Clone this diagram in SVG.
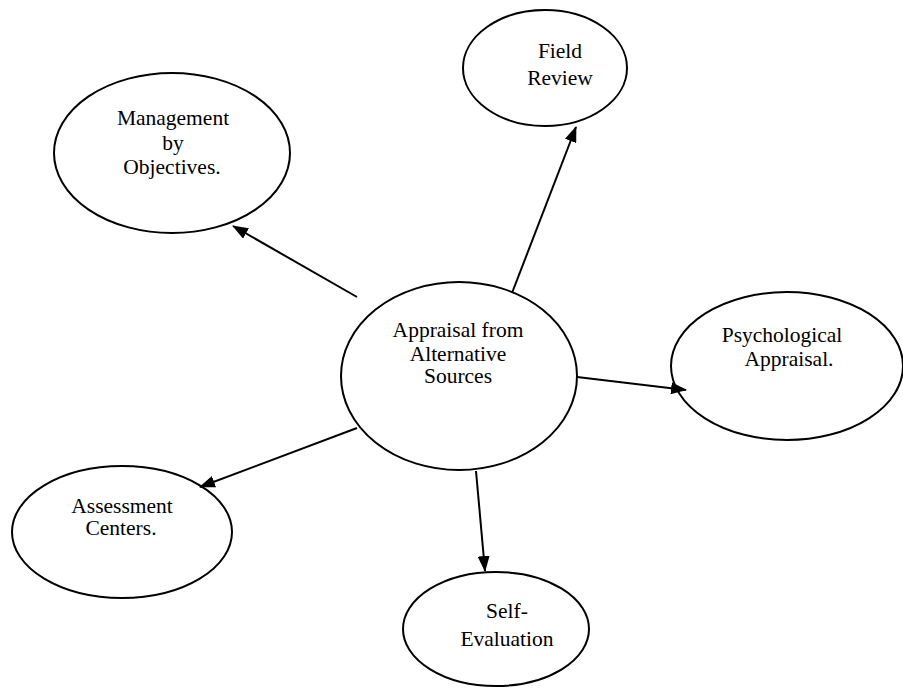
<svg xmlns="http://www.w3.org/2000/svg" width="903" height="688" viewBox="0 0 903 688">
<style>
.n ellipse{fill:#fff;stroke:#000;stroke-width:2}
.n text{font-family:'Liberation Serif','Times New Roman','DejaVu Serif',Times,serif;font-size:21.5px;fill:#000;text-anchor:middle}
.c line{stroke:#000;stroke-width:2;fill:none}
</style>
<defs>
<marker id="ah" viewBox="0 0 16 12" refX="15" refY="6" markerWidth="16" markerHeight="12" markerUnits="userSpaceOnUse" orient="auto">
<path d="M0,0 L16,6 L0,12 Z" fill="#000"/>
</marker>
</defs>
<rect width="903" height="688" fill="#fff"/>
<g id="mbo" class="n">
<ellipse cx="172" cy="153" rx="118" ry="80"/>
<text x="173" y="125">Management</text>
<text x="173" y="150">by</text>
<text x="172" y="174">Objectives.</text>
</g>
<g id="field" class="n">
<ellipse cx="545" cy="68" rx="82" ry="58"/>
<text x="560" y="58">Field</text>
<text x="560" y="85">Review</text>
</g>
<g id="center" class="n">
<ellipse cx="459" cy="376" rx="118" ry="94"/>
<text x="458" y="337">Appraisal from</text>
<text x="458" y="361">Alternative</text>
<text x="458" y="383">Sources</text>
</g>
<g id="psych" class="n">
<ellipse cx="787" cy="366" rx="116" ry="74"/>
<text x="782" y="342">Psychological</text>
<text x="789" y="366">Appraisal.</text>
</g>
<g id="assess" class="n">
<ellipse cx="122" cy="532" rx="110" ry="66"/>
<text x="122" y="513">Assessment</text>
<text x="121" y="535">Centers.</text>
</g>
<g id="self" class="n">
<ellipse cx="496" cy="629" rx="93" ry="57"/>
<text x="507" y="618">Self-</text>
<text x="507" y="646">Evaluation</text>
</g>
<g id="connectors" class="c">
<line x1="357" y1="297" x2="233" y2="226" marker-end="url(#ah)"/>
<line x1="512" y1="293" x2="576" y2="127" marker-end="url(#ah)"/>
<line x1="577" y1="377" x2="686" y2="390" marker-end="url(#ah)"/>
<line x1="357" y1="428" x2="200" y2="487" marker-end="url(#ah)"/>
<line x1="476" y1="471" x2="485" y2="571" marker-end="url(#ah)"/>
</g>
</svg>
